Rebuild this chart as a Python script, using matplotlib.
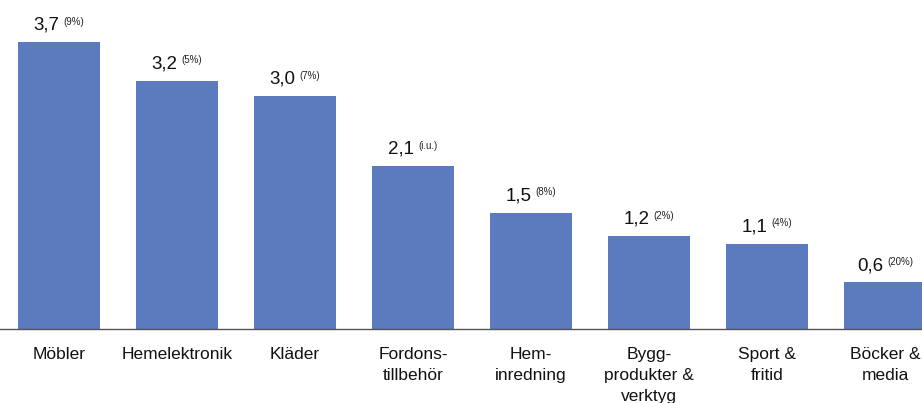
import matplotlib.pyplot as plt
from matplotlib.offsetbox import TextArea, HPacker, AnnotationBbox

plt.rcParams['font.family'] = ['Liberation Sans', 'DejaVu Sans']

# Categories, values and the change in parentheses
categories = ['Möbler', 'Hemelektronik', 'Kläder', 'Fordons-\ntillbehör',
              'Hem-\ninredning', 'Bygg-\nprodukter &\nverktyg', 'Sport &\nfritid',
              'Böcker &\nmedia']
values = [3.7, 3.2, 3.0, 2.1, 1.5, 1.2, 1.1, 0.6]
changes = ['(9%)', '(5%)', '(7%)', '(i.u.)', '(8%)', '(2%)', '(4%)', '(20%)']

bar_color = '#5b7bbe'

fig = plt.figure(figsize=(9.22, 4.03), dpi=100)
ax = fig.add_axes([0, 74 / 403, 1, 329 / 403])

x = range(len(categories))
ax.bar(x, values, width=82 / 118, color=bar_color, zorder=2)

ax.set_xlim(-0.5, -0.5 + 922 / 118)
ax.set_ylim(0, 4.24)

# value label with a small raised percentage next to it
for xi, v, c in zip(x, values, changes):
    main = TextArea(f'{v:.1f}'.replace('.', ','),
                    textprops=dict(fontsize=13.5, color='#111111'))
    small = TextArea(c, textprops=dict(fontsize=7, color='#222222'))
    box = HPacker(children=[main, small], align='top', pad=0, sep=3)
    ab = AnnotationBbox(box, (xi, v), xybox=(0, 6), xycoords='data',
                        boxcoords='offset points', box_alignment=(0.5, 0),
                        frameon=False, pad=0)
    ax.add_artist(ab)

for side in ['top', 'right', 'left']:
    ax.spines[side].set_visible(False)
ax.spines['bottom'].set_color('#555555')
ax.spines['bottom'].set_linewidth(1.0)

ax.set_yticks([])
ax.set_xticks(list(x))
ax.set_xticklabels(categories, fontsize=12.5, linespacing=1.5, color='#111111')
ax.tick_params(axis='x', length=0, pad=13)

fig.savefig('out.png', dpi=100)
